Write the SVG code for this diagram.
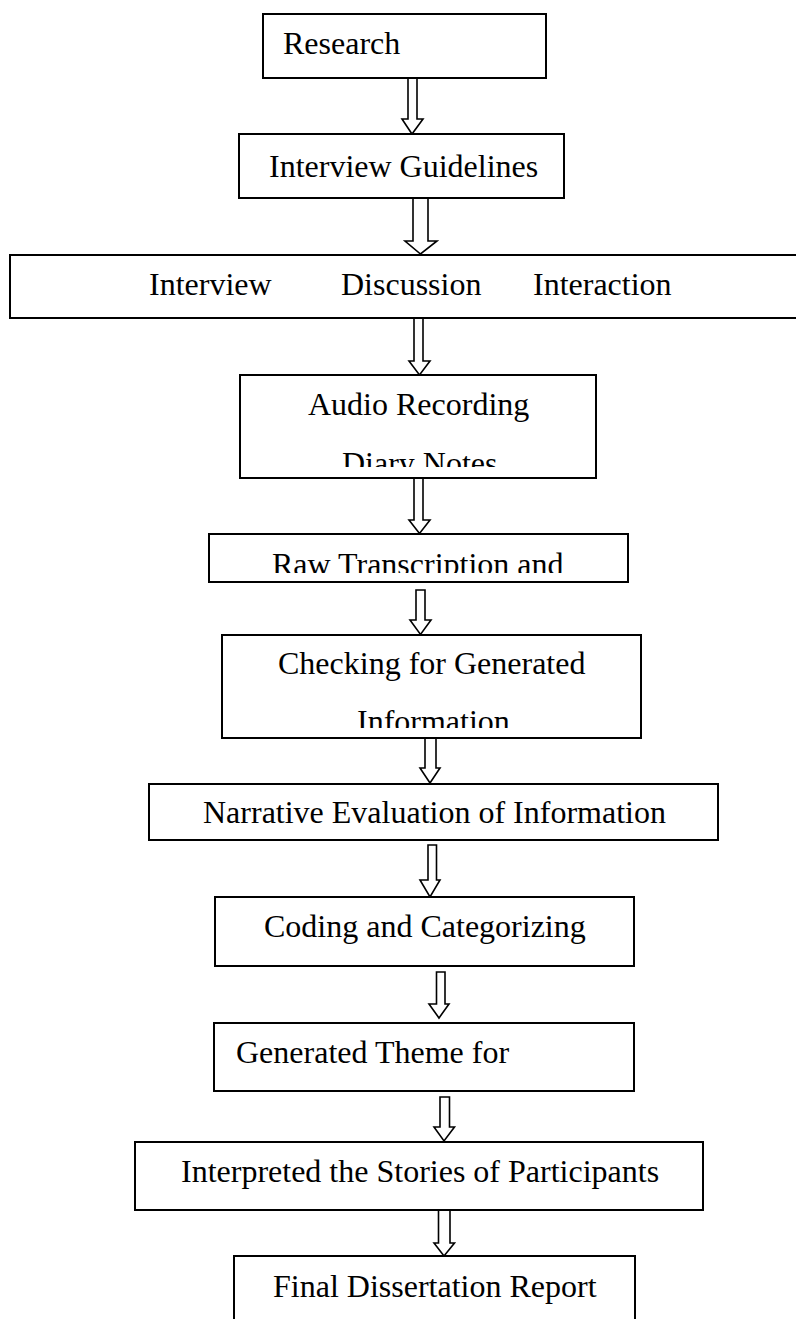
<svg xmlns="http://www.w3.org/2000/svg" width="796" height="1319" viewBox="0 0 796 1319">
<style>
.box{fill:#fff;stroke:#000;stroke-width:2}
.arr{fill:#fff;stroke:#000;stroke-width:1.6;stroke-linejoin:miter}
.t{font-family:"Liberation Serif","Times New Roman",serif;font-size:32px;fill:#000}
</style>
<defs>
<clipPath id="cAudio"><rect x="240" y="375" width="356" height="92"/></clipPath>
<clipPath id="cRaw"><rect x="209" y="534" width="419" height="39"/></clipPath>
<clipPath id="cCheck"><rect x="222" y="635" width="419" height="93"/></clipPath>
</defs>
<rect width="796" height="1319" fill="#fff"/>
<g id="connectors">
<polygon class="arr" points="408,78 417,78 417,119 423,119 412,134 402,119 408,119"/>
<polygon class="arr" points="413,198 428,198 428,241 437,241 420.5,254 405,241 413,241"/>
<polygon class="arr" points="414,318 423,318 423,361 430,361 419.5,375 409,361 414,361"/>
<polygon class="arr" points="414,478 423,478 423,520 430,520 419.5,533.5 409,520 414,520"/>
<polygon class="arr" points="416,590 425,590 425,620 431,620 420.5,634.5 410,620 416,620"/>
<polygon class="arr" points="425,738 436,738 436,768 440,768 430,783 420,768 425,768"/>
<polygon class="arr" points="428,845 436.5,845 436.5,880 440,880 430,897 420,880 428,880"/>
<polygon class="arr" points="436.5,972 445,972 445,1004 449,1004 439,1018 429,1004 436.5,1004"/>
<polygon class="arr" points="440,1097 449.5,1097 449.5,1127 454.5,1127 444,1141 434,1127 440,1127"/>
<polygon class="arr" points="438.5,1210 450,1210 450,1243 454.5,1243 444,1256 434,1243 438.5,1243"/>
</g>
<g id="research"><rect class="box" x="263" y="14" width="283" height="64"/><text class="t" x="283" y="54">Research</text></g>
<g id="guidelines"><rect class="box" x="239" y="134" width="325" height="64"/><text class="t" x="269" y="177">Interview Guidelines</text></g>
<g id="interview"><rect class="box" x="10" y="255" width="800" height="63"/><text class="t" x="149" y="295">Interview</text><text class="t" x="341" y="295">Discussion</text><text class="t" x="533" y="295">Interaction</text></g>
<g id="audio"><rect class="box" x="240" y="375" width="356" height="103"/><text class="t" x="308" y="415">Audio Recording</text><text class="t" x="342" y="474" clip-path="url(#cAudio)">Diary Notes</text></g>
<g id="raw"><rect class="box" x="209" y="534" width="419" height="48"/><text class="t" x="272" y="575" clip-path="url(#cRaw)">Raw Transcription and</text></g>
<g id="checking"><rect class="box" x="222" y="635" width="419" height="103"/><text class="t" x="278" y="674">Checking for Generated</text><text class="t" x="357" y="732" clip-path="url(#cCheck)">Information</text></g>
<g id="narrative"><rect class="box" x="149" y="784" width="569" height="56"/><text class="t" x="203" y="823">Narrative Evaluation of Information</text></g>
<g id="coding"><rect class="box" x="215" y="897" width="419" height="69"/><text class="t" x="264" y="937">Coding and Categorizing</text></g>
<g id="theme"><rect class="box" x="214" y="1023" width="420" height="68"/><text class="t" x="236" y="1063">Generated Theme for</text></g>
<g id="interpreted"><rect class="box" x="135" y="1142" width="568" height="68"/><text class="t" x="181" y="1182">Interpreted the Stories of Participants</text></g>
<g id="final"><rect class="box" x="234" y="1256" width="401" height="80"/><text class="t" x="273" y="1297">Final Dissertation Report</text></g>
</svg>
